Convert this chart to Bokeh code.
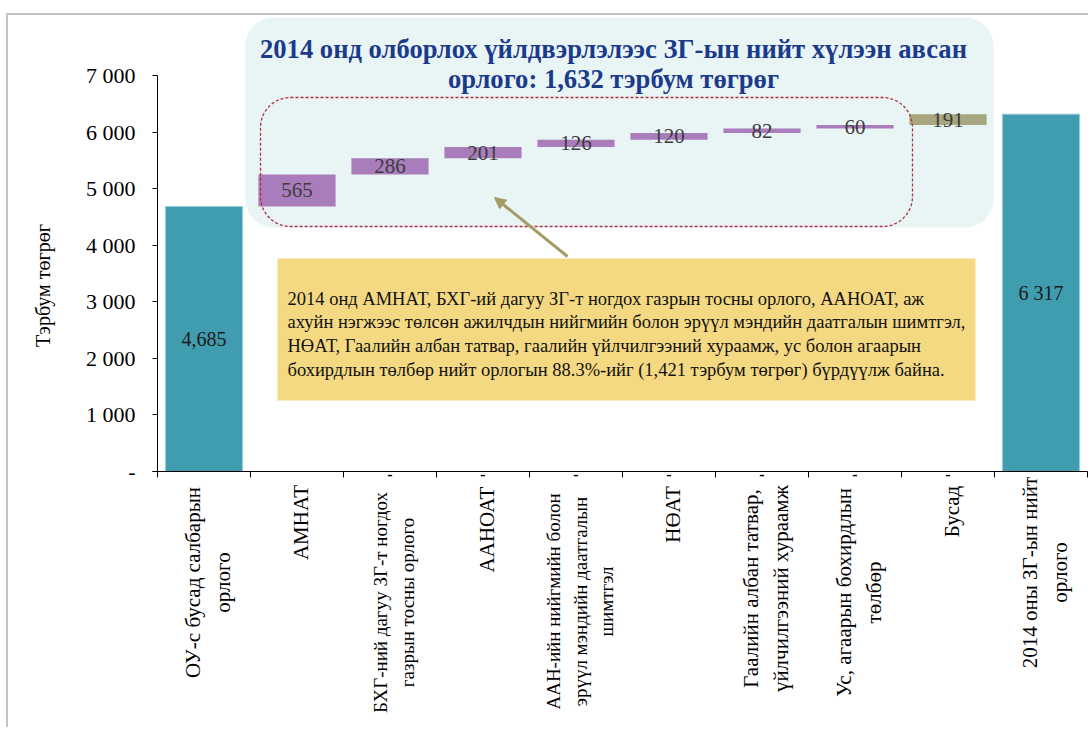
import numpy as np
from bokeh.plotting import figure
from bokeh.models import (ColumnDataSource, Range1d, FixedTicker, BoxAnnotation, Label,
                          Arrow, NormalHead, LabelSet)
from bokeh.core.properties import value
from bokeh.embed import file_html
from bokeh.resources import INLINE

# ---------------- data ----------------
categories = [
    "ОУ-с бусад салбарын\nорлого",
    "АМНАТ",
    "БХГ-ний дагуу ЗГ-т ногдох\nгазрын тосны орлого",
    "ААНОАТ",
    "ААН-ийн нийгмийн болон\nэрүүл мэндийн даатгалын\nшимтгэл",
    "НӨАТ",
    "Гаалийн албан татвар,\nүйлчилгээний хураамж",
    "Ус, агаарын бохирдлын\nтөлбөр",
    "Бусад",
    "2014 оны ЗГ-ын нийт\nорлого",
]
start_total = 4685
start_label = "4,685"
increments = [565, 286, 201, 126, 120, 82, 60, 191]
increment_labels = ["565", "286", "201", "126", "120", "82", "60", "191"]
end_total = 6317
end_label = "6 317"
zero_label_categories = [2, 3, 4, 5, 6, 7, 8]   # hidden zero series shown as "-"
y_ticks = [0, 1000, 2000, 3000, 4000, 5000, 6000, 7000]
y_tick_labels = ["-", "1 000", "2 000", "3 000", "4 000", "5 000", "6 000", "7 000"]
y_axis_title = "Тэрбум төгрөг"
title_lines = ["2014 онд олборлох үйлдвэрлэлээс ЗГ-ын нийт хүлээн авсан",
               "орлого: 1,632 тэрбум төгрөг"]
note_lines = [
    "2014 онд АМНАТ, БХГ-ий дагуу ЗГ-т ногдох газрын тосны орлого, ААНОАТ, аж",
    "ахуйн нэгжээс төлсөн ажилчдын нийгмийн болон эрүүл мэндийн даатгалын шимтгэл,",
    "НӨАТ, Гаалийн албан татвар, гаалийн үйлчилгээний хураамж, ус болон агаарын",
    "бохирдлын төлбөр нийт орлогын 88.3%-ийг (1,421 тэрбум төгрөг) бүрдүүлж байна.",
]

# ---------------- styles / layout ----------------
FONT = "Liberation Serif"
TEAL = "#409CAF"
PURPLE = "#A97CBC"
OLIVE = "#A8A67E"
OX, OY = 8, 15              # canvas origin on the page (px)
W, H = 1082, 714
AXIS_X_PX, AXIS_Y_PX = 157, 471
PX_PER_CAT = 93.0
Y_PX_PER_UNIT = (471 - 75) / 7000.0
n = len(categories)
# centre (page y) and font size of each rotated category label block
label_center_py = [582, 522, 602, 529, 601, 514, 588, 592, 511, 572]
label_font_px = [21, 21, 19, 21, 19, 21, 21, 21, 21, 21]


def X(px):
    return -0.5 + (px - AXIS_X_PX) / PX_PER_CAT


def Y(py):
    return (AXIS_Y_PX - py) / Y_PX_PER_UNIT


p = figure(width=W, height=H, output_backend="svg", toolbar_location=None,
           x_range=Range1d(X(OX), X(OX + W)), y_range=Range1d(Y(OY + H), Y(OY)),
           min_border=0, min_border_left=0, min_border_right=0,
           min_border_top=0, min_border_bottom=0)
p.outline_line_color = None
p.xgrid.visible = False
p.ygrid.visible = False
p.background_fill_color = "white"
p.border_fill_color = "white"

# decorations under the bars
p.add_layout(BoxAnnotation(left=X(245), right=X(993), top=Y(17), bottom=Y(227),
                           fill_color="#E9F5F5", fill_alpha=1, line_color=None,
                           border_radius=28, level="underlay"))

# ---------------- bars ----------------
xs = list(range(n))
bottoms = list(start_total + np.concatenate([[0], np.cumsum(increments)[:-1]]))
tops = [b + v for b, v in zip(bottoms, increments)]
inc_x = xs[1:-1]
inc_colors = [PURPLE] * (len(increments) - 1) + [OLIVE]

tot_src = ColumnDataSource(dict(x=[xs[0], xs[-1]], top=[start_total, end_total],
                                mid=[start_total / 2, end_total / 2],
                                label=[start_label, end_label]))
inc_src = ColumnDataSource(dict(x=inc_x, bottom=bottoms, top=tops,
                                mid=[(b + t) / 2 for b, t in zip(bottoms, tops)],
                                label=increment_labels, color=inc_colors))

BAR_W = 0.83
p.vbar(x="x", top="top", bottom=0, width=BAR_W, source=tot_src, fill_color=TEAL,
       line_color="#9ACFD9", line_width=1)
p.vbar(x="x", top="top", bottom="bottom", width=BAR_W, source=inc_src,
       fill_color="color", line_color=None)

p.text(x="x", y="mid", text="label", source=tot_src, text_font=value(FONT),
       text_font_size="20px", text_color="#1a1a1a", text_align="center",
       text_baseline="middle")
p.text(x="x", y="mid", text="label", source=inc_src, text_font=value(FONT),
       text_font_size="21px", text_color="#3c3c3c", text_align="center",
       text_baseline="middle")

# ---------------- axes (library axes, fixed at the data origin) ----------------
p.xaxis.fixed_location = 0
p.xaxis.bounds = (-0.55, n - 0.5)
p.xaxis.ticker = FixedTicker(ticks=[], minor_ticks=[i - 0.5 for i in range(n + 1)])
p.xaxis.minor_tick_line_color = "black"
p.xaxis.minor_tick_out = 6
p.xaxis.minor_tick_in = 0
p.xaxis.axis_line_color = "black"

p.yaxis.fixed_location = -0.5
p.yaxis.ticker = FixedTicker(ticks=y_ticks, minor_ticks=[])
p.yaxis.bounds = (0, 7000)
p.yaxis.major_label_overrides = {t: l for t, l in zip(y_ticks, y_tick_labels)}
p.yaxis.major_tick_out = 5
p.yaxis.major_tick_in = 0
p.yaxis.major_label_standoff = 17
p.yaxis.major_label_text_font = FONT
p.yaxis.major_label_text_font_size = "22px"
p.yaxis.major_label_text_color = "black"
p.yaxis.axis_line_color = "black"

# category labels (rotated, lines centred like the original)
for i, cat in enumerate(categories):
    p.add_layout(Label(x=xs[i], y=Y(label_center_py[i]), x_offset=4, text=cat,
                       angle=np.pi / 2, text_font=FONT,
                       text_font_size=f"{label_font_px[i]}px",
                       text_align="center", text_baseline="middle",
                       text_line_height=1.25, text_color="black"))

zero_src = ColumnDataSource(dict(x=zero_label_categories,
                                 y=[0] * len(zero_label_categories),
                                 t=["-"] * len(zero_label_categories)))
p.add_layout(LabelSet(x="x", y="y", text="t", source=zero_src, y_offset=-3,
                      text_font=value(FONT), text_font_size="16px",
                      text_font_style="bold", text_align="center",
                      text_baseline="middle", text_color="black"))

p.add_layout(Label(x=X(42), y=Y(285), text=y_axis_title, angle=np.pi / 2,
                   text_font=FONT, text_font_size="20px", text_align="center",
                   text_baseline="middle", text_color="black"))

# ---------------- annotations ----------------
for i, line in enumerate(title_lines):
    p.add_layout(Label(x=X(613), y=Y(48 + i * 30), text=line, text_font=FONT,
                       text_font_style="bold", text_font_size="26.6px",
                       text_color="#1B3A8C", text_align="center",
                       text_baseline="middle"))

p.add_layout(BoxAnnotation(left=X(260), right=X(912), top=Y(97), bottom=Y(226),
                           fill_alpha=0, line_color="#B03040", line_alpha=1,
                           line_dash="3 2", line_width=1.3, border_radius=30))

p.add_layout(BoxAnnotation(left=X(277), right=X(975), top=Y(258), bottom=Y(400),
                           fill_color="#F5D982", fill_alpha=1, line_color=None))
for i, line in enumerate(note_lines):
    p.add_layout(Label(x=X(287), y=Y(298 + i * 23.7), text=line, text_font=FONT,
                       text_font_size="18.5px", text_color="#111111", text_align="left",
                       text_baseline="middle"))

p.add_layout(Arrow(end=NormalHead(size=11, fill_color="#A69A66", line_color="#A69A66"),
                   x_start=X(567), y_start=Y(256), x_end=X(494), y_end=Y(197),
                   line_color="#A69A66", line_width=3))

p.styles = {"border-left": "2px solid #C4C4C4", "border-top": "2px solid #C4C4C4",
            "margin-top": "13px", "margin-left": "6px"}

open("out.html", "w").write(file_html(p, INLINE))
